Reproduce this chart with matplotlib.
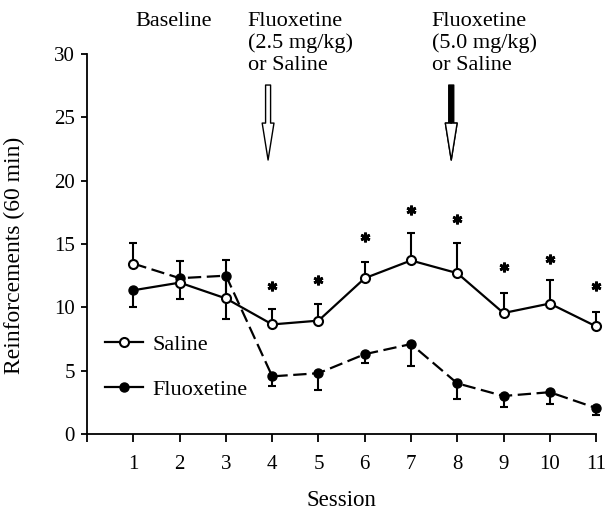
import matplotlib
matplotlib.use("Agg")
import matplotlib.pyplot as plt
from matplotlib.patches import FancyArrowPatch
from matplotlib.lines import Line2D

# ---- data ----
sessions = [1, 2, 3, 4, 5, 6, 7, 8, 9, 10, 11]
saline = [13.45, 11.95, 10.7, 8.65, 8.95, 12.3, 13.7, 12.7, 9.55, 10.3, 8.5]
saline_err_up = [1.6, 1.7, 3.0, 1.2, 1.35, 1.3, 2.15, 2.4, 1.55, 1.85, 1.15]
fluoxetine = [11.35, 12.3, 12.5, 4.55, 4.8, 6.3, 7.1, 4.0, 3.0, 3.3, 2.05]
fluoxetine_err_down = [1.3, 1.65, 3.4, 0.75, 1.3, 0.7, 1.7, 1.2, 0.85, 0.95, 0.55]
sig_sessions = [4, 5, 6, 7, 8, 9, 10, 11]
sig_y = [11.7, 12.15, 15.55, 17.7, 16.95, 13.15, 13.85, 11.65]
xtick_labels = ["", "1", "2", "3", "4", "5", "6", "7", "8", "9", "10", "11"]
ytick_vals = [0, 5, 10, 15, 20, 25, 30]
phase_labels = ["Baseline", "Fluoxetine\n(2.5 mg/kg)\nor Saline", "Fluoxetine\n(5.0 mg/kg)\nor Saline"]
phase_x = [1.05, 3.47, 7.45]
arrow_x = [3.91, 7.87]

plt.rcParams['font.family'] = ['Liberation Serif', 'DejaVu Serif']

fig = plt.figure(figsize=(6.13, 5.11), dpi=100)
ax = fig.add_axes([0.1423, 0.1507, 0.830, 0.7436])

# line routing as drawn in the original figure
solid_line = [fluoxetine[0]] + saline[1:]
dashed_line = [saline[0]] + fluoxetine[1:]

ax.plot(sessions, dashed_line, color='black', lw=1.6, ls=(0, (6, 2.5)), clip_on=False, zorder=2)
ax.plot(sessions, solid_line, color='black', lw=1.6, ls='-', clip_on=False, zorder=2)

ax.errorbar(sessions, fluoxetine, yerr=[fluoxetine_err_down, [0] * len(sessions)], fmt='none',
            ecolor='black', elinewidth=1.5, capsize=3, capthick=1.5, clip_on=False, zorder=3)
ax.errorbar(sessions, saline, yerr=[[0] * len(sessions), saline_err_up], fmt='none',
            ecolor='black', elinewidth=1.5, capsize=3, capthick=1.5, clip_on=False, zorder=3)

ax.plot(sessions, fluoxetine, ls='none', marker='o', ms=6.5, mfc='black', mec='black', clip_on=False, zorder=4)
ax.plot(sessions, saline, ls='none', marker='o', ms=6.5, mfc='white', mec='black', mew=1.5, clip_on=False, zorder=5)

# significance asterisks
ax.plot(sig_sessions, sig_y, ls='none', marker=(6, 2, 0), ms=7, mec='black', mew=2.0, clip_on=False)

# legend
h1 = Line2D([], [], color='black', lw=1.6, ls='-', marker='o', ms=6.5, mfc='white', mec='black', mew=1.5)
h2 = Line2D([], [], color='black', lw=1.6, ls='-', marker='o', ms=6.5, mfc='black', mec='black')
ax.legend([h1, h2], ["Saline", "Fluoxetine"], loc='upper left', bbox_to_anchor=(0.035, 0.263),
          frameon=False, fontsize=16, handlelength=1.7, handletextpad=0.45, labelspacing=1.1,
          borderpad=0, borderaxespad=0)

# axes styling
ax.set_xlim(0, 11)
ax.set_ylim(0, 30)
ax.spines['top'].set_visible(False)
ax.spines['right'].set_visible(False)
ax.spines['left'].set_linewidth(1.3)
ax.spines['bottom'].set_linewidth(1.3)
ax.set_xticks(range(0, 12))
ax.set_xticklabels(xtick_labels)
ax.set_yticks(ytick_vals)
ax.tick_params(axis='both', direction='out', width=1.3, labelsize=15)
ax.tick_params(axis='x', length=6, pad=9)
ax.tick_params(axis='y', length=4.5, pad=4.3)
ax.set_xlabel("Session", fontsize=16.5, labelpad=12)
ax.set_ylabel("Reinforcements (60 min)", fontsize=17)
ax.yaxis.set_label_coords(-0.122, 0.47)

# phase labels
for px, lab in zip(phase_x, phase_labels):
    ax.text(px, 33.35, lab, fontsize=16, ha='left', va='top', linespacing=1.21, clip_on=False)

# arrows (hollow heads; second with dark shaft)
y_top, y_head, y_tip = 27.55, 24.55, 21.63
for i, axx in enumerate(arrow_x):
    style = 'simple,head_width=8.5,head_length=26.6,tail_width=3.6'
    p = FancyArrowPatch((axx, y_top), (axx, y_tip), arrowstyle=style, mutation_scale=1,
                        fc='white' if i == 0 else 'black', ec='black', lw=1.0,
                        shrinkA=0, shrinkB=0, clip_on=False, zorder=6)
    ax.add_patch(p)
    if i == 1:
        p2 = FancyArrowPatch((axx, y_head), (axx, y_tip),
                             arrowstyle='simple,head_width=8.5,head_length=26.6,tail_width=0.01',
                             mutation_scale=1, fc='white', ec='black', lw=1.0,
                             shrinkA=0, shrinkB=0, clip_on=False, zorder=7)
        ax.add_patch(p2)

fig.savefig("out.png", dpi=100)
